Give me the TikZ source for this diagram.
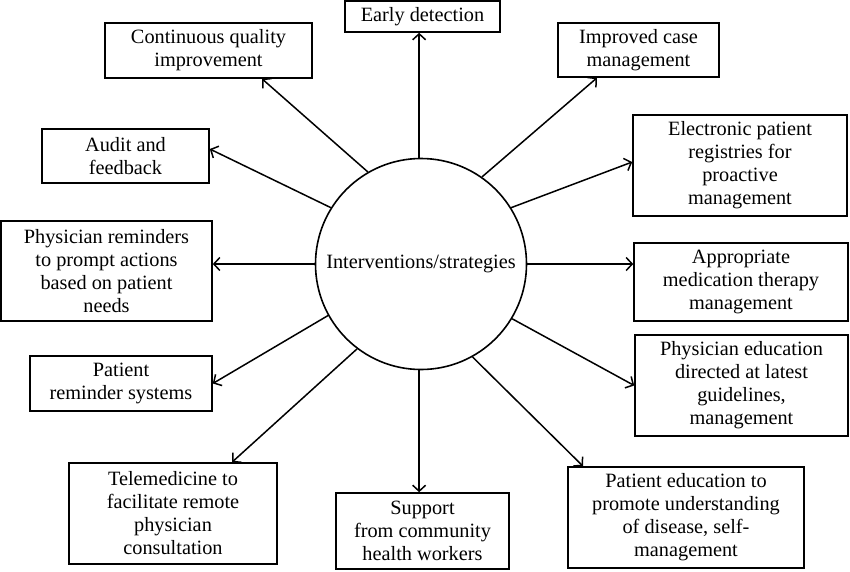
\documentclass[tikz,border=0pt]{standalone}
\usepackage{fontspec}
\setmainfont{Liberation Serif}
\usetikzlibrary{arrows.meta}
\begin{document}
\begin{tikzpicture}[x=1pt,y=-1pt,
  every node/.style={font=\fontsize{20.3}{23}\selectfont},
  box/.style={draw,line width=1.6pt,rectangle,inner sep=0pt,align=center},
  arr/.style={line width=1.5pt,-{Straight Barb[length=6pt,width=13pt,line width=1.5pt]}}]
\useasboundingbox (0,0) rectangle (850,571);
\node[draw,circle,line width=1.6pt,minimum size=211pt,inner sep=0pt] (c) at (421,264) {Interventions/strategies};
% boxes: center (x,y), width, height
\node[box,minimum width=155pt,minimum height=31pt] (early) at (422.5,16.5) {Early detection};
\node[box,minimum width=207pt,minimum height=55pt] (cqi) at (208.5,50.5) {Continuous quality\\improvement};
\node[box,minimum width=161pt,minimum height=54pt] (icm) at (638.5,50) {Improved case\\management};
\node[box,minimum width=167pt,minimum height=54pt] (audit) at (125.5,156) {Audit and\\feedback};
\node[box,minimum width=214pt,minimum height=101pt] (epr) at (740,165.5) {Electronic patient\\registries for\\proactive\\management};
\node[box,minimum width=211pt,minimum height=100pt] (phr) at (106.5,271) {Physician reminders\\to prompt actions\\based on patient\\needs};
\node[box,minimum width=214pt,minimum height=78pt] (amt) at (741,282) {Appropriate\\medication therapy\\management};
\node[box,minimum width=182pt,minimum height=55pt] (prs) at (121,383.5) {Patient\\reminder systems};
\node[box,minimum width=213pt,minimum height=101pt] (phe) at (741.5,385.5) {Physician education\\directed at latest\\guidelines,\\management};
\node[box,minimum width=208pt,minimum height=101pt] (tele) at (173,513.5) {Telemedicine to\\facilitate remote\\physician\\consultation};
\node[box,minimum width=173pt,minimum height=76pt] (sup) at (422.5,531) {Support\\from community\\health workers};
\node[box,minimum width=236pt,minimum height=101pt] (pe) at (686,517.5) {Patient education to\\promote understanding\\of disease, self-\\management};
% arrows
\draw[arr] (c.91) -- (early.south -| c.91);
\draw[arr] (c.120.4) -- ([xshift=53.5pt]cqi.south);
\draw[arr] (c.55.7) -- ([xshift=-41.5pt]icm.south);
\draw[arr] (c.148.3) -- ([yshift=7pt]audit.east);
\draw[arr] (c.32.5) -- ([yshift=3.5pt]epr.west);
\draw[arr] (c.180) -- (phr.east |- c.180);
\draw[arr] (c.0) -- (amt.west |- c.0);
\draw[arr] (c.209.3) -- (prs.east);
\draw[arr] (c.-31.6) -- (phe.west);
\draw[arr] (c.233.9) -- ([xshift=59pt]tele.north);
\draw[arr] (c.269) -- (sup.north -| c.269);
\draw[arr] (c.-61.3) -- ([xshift=-103pt]pe.north);
\end{tikzpicture}
\end{document}
